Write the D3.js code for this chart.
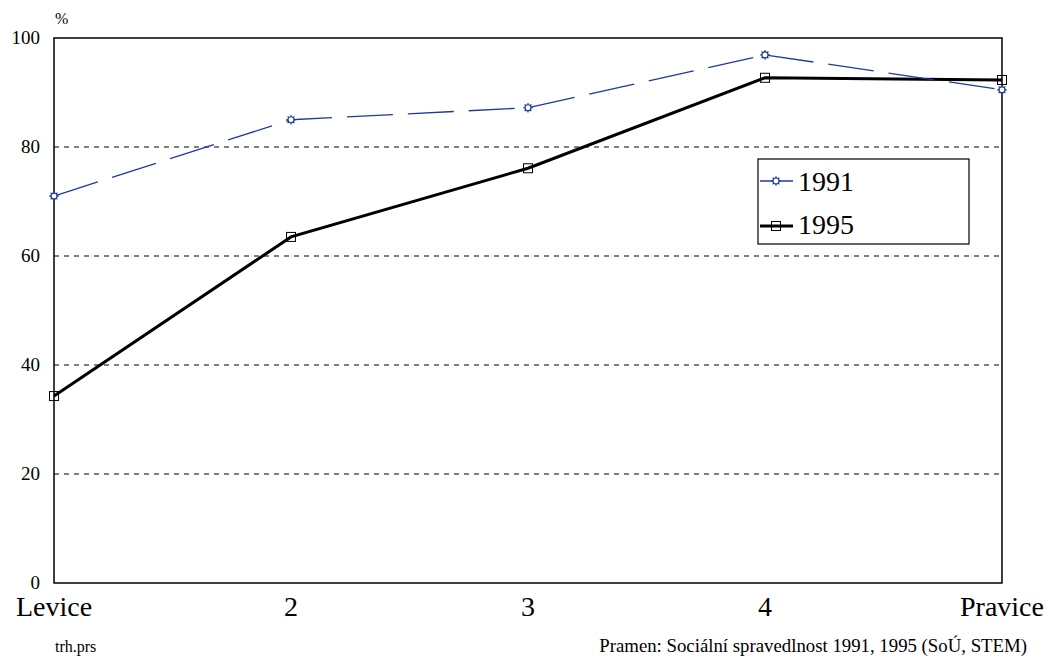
<!DOCTYPE html>
<html>
<head>
<meta charset="utf-8">
<script src="https://cdn.jsdelivr.net/npm/d3@7"></script>
<style>
  body { margin: 0; background: #fff; }
</style>
</head>
<body>
<div id="chart"></div>
<script>
const categories = ["Levice", "2", "3", "4", "Pravice"];
const values1991 = [71.0, 85.0, 87.2, 96.9, 90.5];
const values1995 = [34.3, 63.5, 76.1, 92.7, 92.3];
const yTicks = [0, 20, 40, 60, 80, 100];

const width = 1048, height = 658;
const margin = { top: 38, right: 46, bottom: 75, left: 54 };
const serif = "'Liberation Serif', 'Times New Roman', 'DejaVu Serif', serif";

const svg = d3.select("#chart").append("svg")
  .attr("width", width)
  .attr("height", height)
  .attr("font-family", serif)
  .style("font-family", serif);

const x = d3.scalePoint()
  .domain(categories)
  .range([margin.left, width - margin.right]);

const y = d3.scaleLinear()
  .domain([0, 100])
  .range([height - margin.bottom, margin.top]);

// gridlines
svg.append("g")
  .selectAll("line")
  .data(yTicks.filter((d) => d > 0 && d < 100))
  .enter()
  .append("line")
  .attr("x1", margin.left)
  .attr("x2", width - margin.right)
  .attr("y1", (d) => y(d))
  .attr("y2", (d) => y(d))
  .attr("stroke", "#000")
  .attr("stroke-width", 1)
  .attr("stroke-dasharray", "5,5");

// plot frame
svg.append("rect")
  .attr("x", margin.left)
  .attr("y", margin.top)
  .attr("width", width - margin.left - margin.right)
  .attr("height", height - margin.top - margin.bottom)
  .attr("fill", "none")
  .attr("stroke", "#000")
  .attr("stroke-width", 1.5);

// y tick labels
svg.append("g")
  .selectAll("text")
  .data(yTicks)
  .enter()
  .append("text")
  .attr("x", 40)
  .attr("y", (d) => y(d) + 6)
  .attr("text-anchor", "end")
  .attr("font-size", "19px")
  .text((d) => d);

svg.append("text")
  .attr("x", 55)
  .attr("y", 24)
  .attr("font-size", "16px")
  .text("%");

// x tick labels
svg.append("g")
  .selectAll("text")
  .data(categories)
  .enter()
  .append("text")
  .attr("x", (d) => x(d))
  .attr("y", 616)
  .attr("text-anchor", "middle")
  .attr("font-size", "28px")
  .text((d) => d);

const line = d3.line()
  .x((d, i) => x(categories[i]))
  .y((d) => y(d));

// sun-like marker for 1991
function sunMarker(g, cx, cy, color) {
  g.append("circle")
    .attr("cx", cx).attr("cy", cy).attr("r", 3)
    .attr("fill", "#fff").attr("stroke", color).attr("stroke-width", 1.2);
  for (let k = 0; k < 8; k++) {
    const a = (k * Math.PI) / 4;
    g.append("line")
      .attr("x1", cx + Math.cos(a) * 3)
      .attr("y1", cy + Math.sin(a) * 3)
      .attr("x2", cx + Math.cos(a) * 4.8)
      .attr("y2", cy + Math.sin(a) * 4.8)
      .attr("stroke", color).attr("stroke-width", 1.2);
  }
}

function squareMarker(g, cx, cy) {
  g.append("rect")
    .attr("x", cx - 4.5).attr("y", cy - 4.5)
    .attr("width", 9).attr("height", 9)
    .attr("fill", "none").attr("stroke", "#000").attr("stroke-width", 1);
}

const blue = "#1f3a9a";

// 1995 line
svg.append("path")
  .datum(values1995)
  .attr("d", line)
  .attr("fill", "none")
  .attr("stroke", "#000")
  .attr("stroke-width", 3);

// 1991 line
svg.append("path")
  .datum(values1991)
  .attr("d", line)
  .attr("fill", "none")
  .attr("stroke", blue)
  .attr("stroke-width", 1.3)
  .attr("stroke-dasharray", "46,15");

const m95 = svg.append("g");
values1995.forEach((v, i) => squareMarker(m95, x(categories[i]), y(v)));
const m91 = svg.append("g");
values1991.forEach((v, i) => sunMarker(m91, x(categories[i]), y(v), blue));

// legend
const legend = svg.append("g").attr("transform", "translate(758,159)");
legend.append("rect")
  .attr("width", 211).attr("height", 85)
  .attr("fill", "#fff").attr("stroke", "#000").attr("stroke-width", 1.2);

legend.append("line")
  .attr("x1", 2).attr("x2", 35).attr("y1", 22).attr("y2", 22)
  .attr("stroke", blue).attr("stroke-width", 1.3);
sunMarker(legend, 18, 22, blue);
legend.append("text")
  .attr("x", 40).attr("y", 32)
  .attr("font-size", "28px")
  .text("1991");

legend.append("line")
  .attr("x1", 2).attr("x2", 35).attr("y1", 67).attr("y2", 67)
  .attr("stroke", "#000").attr("stroke-width", 3);
squareMarker(legend, 18, 67);
legend.append("text")
  .attr("x", 40).attr("y", 75)
  .attr("font-size", "28px")
  .text("1995");

// footer
svg.append("text")
  .attr("x", 55).attr("y", 652)
  .attr("font-size", "16px")
  .text("trh.prs");

svg.append("text")
  .attr("x", 1027).attr("y", 652)
  .attr("text-anchor", "end")
  .attr("font-size", "18.8px")
  .text("Pramen: Sociální spravedlnost 1991, 1995 (SoÚ, STEM)");
</script>
</body>
</html>
